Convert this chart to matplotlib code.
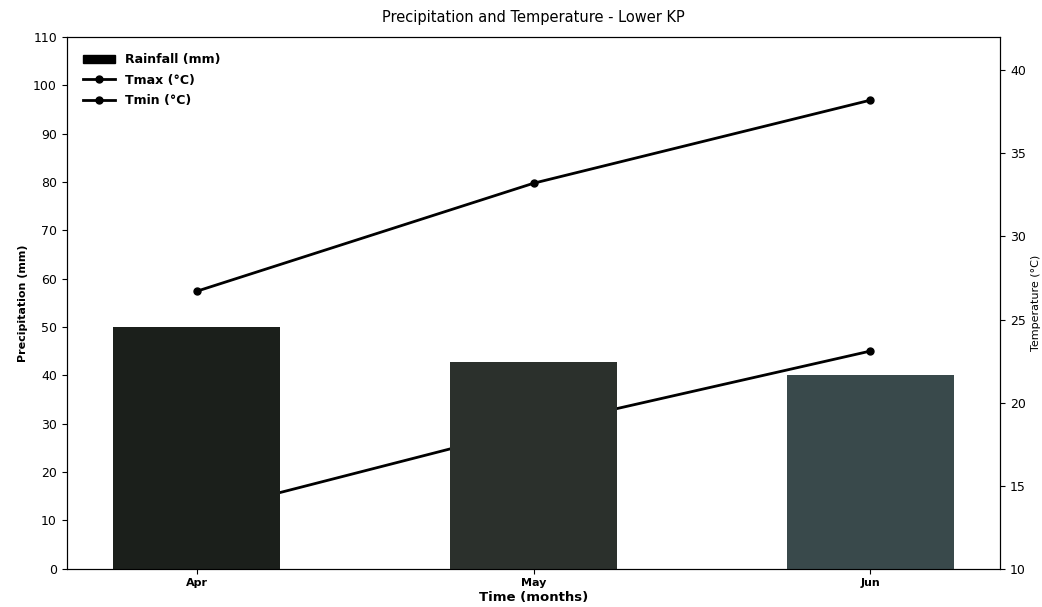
import matplotlib
matplotlib.use("Agg")
import matplotlib.pyplot as plt
import numpy as np

# data
months = ["Apr", "May", "Jun"]
rainfall_mm = [50.0, 42.8, 40.1]
tmax_c = [26.7, 33.2, 38.2]
tmin_c = [13.3, 18.5, 23.1]
bar_colors = ["#1b1f1b", "#2b302c", "#39494b"]

plt.rcParams["font.family"] = ["DejaVu Sans"]

fig = plt.figure(figsize=(10.42, 6.07), dpi=100)
ax = fig.add_axes([0.064, 0.063, 0.896, 0.876])
ax2 = ax.twinx()

x = np.arange(len(months))

# temperature lines on the twin axis (drawn behind the bars)
ax2.plot(x, tmax_c, color="black", marker="o", markersize=5, linewidth=2, label="Tmax (°C)")
ax2.plot(x, tmin_c, color="black", marker="o", markersize=5, linewidth=2, label="Tmin (°C)")
ax2.set_ylim(10, 42)
ax2.set_yticks([10, 15, 20, 25, 30, 35, 40])
ax2.set_ylabel("Temperature (°C)", fontsize=8)
ax2.tick_params(labelsize=9)

bars = ax.bar(x, rainfall_mm, width=0.495, color=bar_colors, label="Rainfall (mm)")
ax.set_ylim(0, 110)
ax.set_yticks(np.arange(0, 111, 10))
ax.set_xlim(-0.386, 2.386)
ax.set_xticks(x)
ax.set_xticklabels(months, fontsize=8, fontweight="bold")
ax.tick_params(axis="y", labelsize=9)
ax.set_ylabel("Precipitation (mm)", fontsize=8, fontweight="bold")
ax.set_xlabel("Time (months)", fontsize=9.5, fontweight="bold", labelpad=2)
ax.set_title("Precipitation and Temperature - Lower KP", fontsize=10.5, pad=11)

# bars on top of lines
ax.set_zorder(ax2.get_zorder() + 1)
ax.patch.set_visible(False)

h1, l1 = ax.get_legend_handles_labels()
h2, l2 = ax2.get_legend_handles_labels()
leg = ax.legend(h1 + h2, l1 + l2, loc="upper left", frameon=False,
                prop={"size": 9, "weight": "bold"}, handlelength=2.6,
                borderaxespad=0.9, labelspacing=0.6)
leg.legend_handles[0].set_color("black")

fig.savefig("out.png", dpi=100, facecolor="white")
